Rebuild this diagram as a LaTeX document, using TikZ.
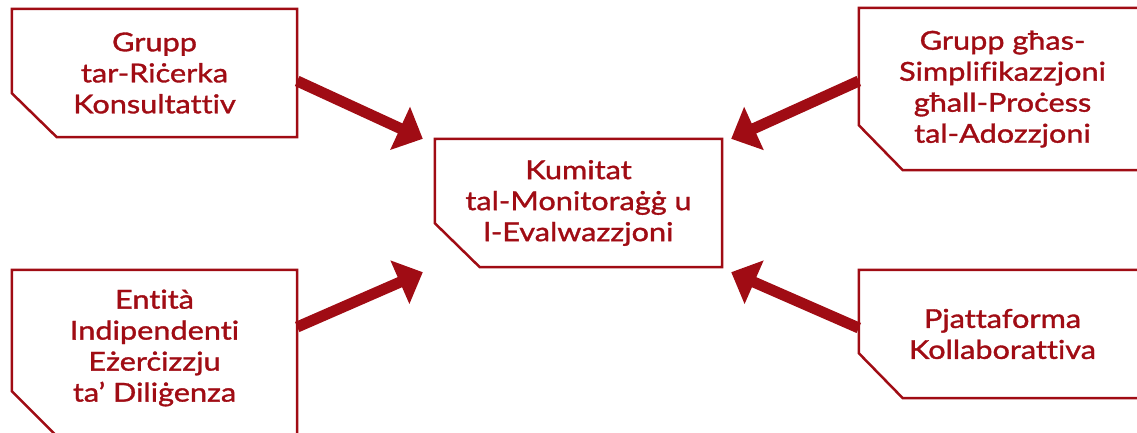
\documentclass[tikz,border=0pt]{standalone}
\usepackage{fontspec}
\setmainfont{Lato}
\newfontfamily\lbl{Lato}[FakeBold=1.3,FakeStretch=1.18,Ligatures={NoCommon}]
\usetikzlibrary{arrows.meta}
\definecolor{dred}{RGB}{160,12,20}
\tikzset{
  box/.style={draw=none, text=dred, align=center, inner sep=0pt,
    font=\lbl\fontsize{26}{31}\selectfont},
  outline/.style={draw=dred, line width=2.5pt, line join=miter},
  bigarrow/.style={draw=dred, line width=11pt,
    -{Triangle[length=25pt,width=46pt]}}
}
\begin{document}
\begin{tikzpicture}[x=1pt,y=-1pt]
\useasboundingbox (0,0) rectangle (1137,433);
\clip (0,0) rectangle (1137,433);
% boxes
\node[box, minimum width=285pt, minimum height=128pt] (b1) at (154.5,73) {Grupp\\tar-Riċerka\\Konsultattiv};
\node[box, minimum width=287pt, minimum height=128pt] (cm) at (578.5,203) {Kumitat\\tal-Monitoraġġ u\\l-Evalwazzjoni};
\node[box, minimum width=287pt, minimum height=162pt] (tr) at (1002.5,89) {Grupp għas-\\Simplifikazzjoni\\għall-Proċess\\tal-Adozzjoni};
\node[box, minimum width=285pt, minimum height=156pt] (bl) at (154.5,348) {Entità\\Indipendenti\\Eżerċizzju\\ta’ Diliġenza};
\node[box, minimum width=287pt, minimum height=128pt] (br) at (1002.5,334) {Pjattaforma\\Kollaborattiva};
% outlines with cut lower-left corner
\draw[outline] (b1.north west) -- (b1.north east) -- (b1.south east) -- ([xshift=45pt]b1.south west) -- ([yshift=44pt]b1.south west) -- cycle;
\draw[outline] (cm.north west) -- (cm.north east) -- (cm.south east) -- ([xshift=45pt]cm.south west) -- ([yshift=44pt]cm.south west) -- cycle;
\draw[outline] (tr.north west) -- (tr.north east) -- (tr.south east) -- ([xshift=44pt]tr.south west) -- ([yshift=45pt]tr.south west) -- cycle;
\draw[outline] (bl.north west) -- (bl.north east) -- ([yshift=-10pt]bl.south east) -- ([xshift=45pt,yshift=-10pt]bl.south west) -- ([yshift=35pt]bl.south west) -- cycle;
\draw[outline] (br.north west) -- (br.north east) -- (br.south east) -- ([xshift=44pt]br.south west) -- ([yshift=45pt]br.south west) -- cycle;
% arrow tips
\coordinate (t1) at ([xshift=-12pt]cm.north west);
\coordinate (t2) at ([xshift=9pt]cm.north east);
\coordinate (t3) at ([xshift=-12pt,yshift=-5pt]cm.south west);
\coordinate (t4) at ([xshift=9pt,yshift=-5pt]cm.south east);
% arrows
\draw[bigarrow] ([yshift=-8pt]b1.east) -- (t1);
\draw[bigarrow] ([yshift=8pt]tr.west) -- (t2);
\draw[bigarrow] ([yshift=21pt]bl.east) -- (t3);
\draw[bigarrow] ([yshift=6pt]br.west) -- (t4);
\end{tikzpicture}
\end{document}
